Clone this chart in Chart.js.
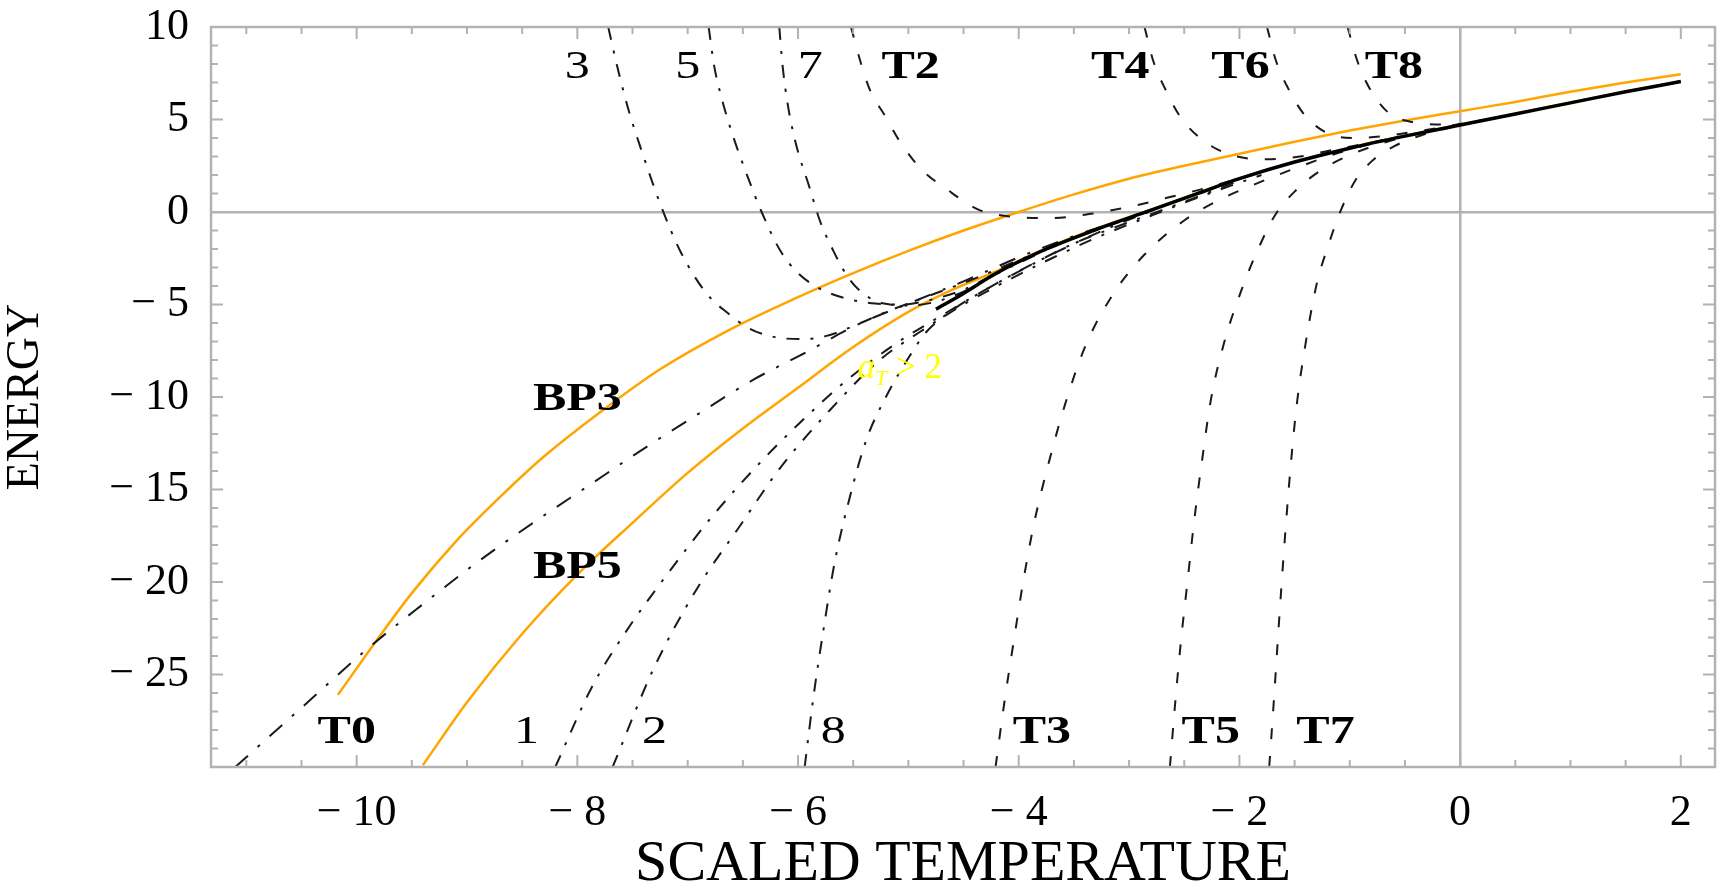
<!DOCTYPE html>
<html>
<head>
<meta charset="utf-8">
<script src="https://cdn.jsdelivr.net/npm/chart.js@4.4.1/dist/chart.umd.min.js"></script>
<style>
  html, body { margin: 0; padding: 0; background: #fff; }
  canvas { display: block; }
</style>
</head>
<body>
<canvas id="myChart" width="1726" height="887"></canvas>
<script>
const xTicks = [-10, -8, -6, -4, -2, 0, 2];
const yTicks = [-25, -20, -15, -10, -5, 0, 5, 10];

// [x, y] pairs
const mainLine = [[-4.75,-5.25],[-4.5,-4.4],[-4.2,-3.3],[-3.75,-2.0],[-3.3,-0.95],[-2.8,0.1],[-2.4,0.95],[-2.0,1.8],[-1.5,2.7],[-1.0,3.45],[-0.5,4.1],[0,4.7],[0.5,5.3],[1.0,5.9],[1.5,6.5],[2.0,7.05]];
const bp3 = [[-10.17,-26.1],[-9.8,-23.0],[-9.5,-20.6],[-9.1,-17.8],[-8.7,-15.4],[-8.3,-13.2],[-7.7,-10.4],[-7.25,-8.5],[-6.6,-6.3],[-6.0,-4.6],[-5.5,-3.3],[-5.0,-2.1],[-4.5,-1.0],[-4.0,0],[-3.5,0.95],[-3.0,1.8],[-2.5,2.5],[-2.0,3.15],[-1.5,3.8],[-1.0,4.4],[-0.5,4.95],[0,5.45],[0.5,5.95],[1.0,6.5],[1.5,7.0],[2.0,7.45]];
const bp5 = [[-9.4,-29.9],[-9.0,-26.5],[-8.5,-22.8],[-8.0,-19.6],[-7.5,-16.8],[-7.0,-14.1],[-6.5,-11.7],[-6.0,-9.5],[-5.5,-7.3],[-5.0,-5.4],[-4.6,-4.2],[-4.2,-3.2],[-3.75,-1.95],[-3.3,-0.9],[-2.8,0.12],[-2.0,1.82],[-1.0,3.47],[0,4.72],[1.0,5.92],[2.0,7.07]];
const t0 = [[-11.1,-30.0],[-10.5,-26.8],[-9.9,-23.6],[-9.4,-21.2],[-8.9,-18.9],[-8.4,-16.8],[-7.9,-14.8],[-7.4,-12.8],[-6.9,-10.9],[-6.4,-9.05],[-5.9,-7.5],[-5.5,-6.2],[-5.0,-4.95],[-4.5,-3.75],[-4.0,-2.45],[-3.5,-1.3],[-3.0,-0.3],[-2.5,0.75],[-2.0,1.8]];
const c1 = [[-8.2,-30],[-7.87,-25.7],[-7.55,-22.6],[-7.2,-19.7],[-6.77,-16.4],[-6.32,-13.4],[-5.86,-10.7],[-5.56,-9.1],[-5.11,-7.1],[-4.7,-5.6],[-4.3,-4.2],[-3.9,-2.9],[-3.5,-1.7],[-3.0,-0.55],[-2.5,0.55],[-2.0,1.7]];
const c2 = [[-7.68,-30],[-7.31,-24.7],[-6.92,-20.4],[-6.53,-17.0],[-6.17,-13.9],[-5.71,-10.7],[-5.26,-8.0],[-4.9,-6.5],[-4.5,-5.0],[-4.1,-3.7],[-3.7,-2.5],[-3.3,-1.4],[-2.8,-0.2],[-2.3,0.95],[-1.8,2.0]];
const c8 = [[-5.94,-30],[-5.86,-26.2],[-5.77,-22.6],[-5.67,-19.0],[-5.53,-15.4],[-5.38,-12.3],[-5.2,-9.96],[-4.99,-7.8],[-4.84,-6.5],[-4.6,-5.3],[-4.3,-4.2],[-4.0,-3.2],[-3.6,-2.0],[-3.2,-0.9],[-2.8,0.05]];
const c3 = [[-7.72,10.0],[-7.64,7.9],[-7.54,5.6],[-7.40,3.0],[-7.24,0.3],[-7.06,-2.2],[-6.83,-4.4],[-6.64,-5.45],[-6.44,-6.3],[-6.22,-6.75],[-5.96,-6.87],[-5.75,-6.71],[-5.5,-6.17],[-5.2,-5.4],[-4.8,-4.5],[-4.4,-3.6],[-4.0,-2.6],[-3.5,-1.4],[-3.0,-0.35],[-2.5,0.75],[-2.0,1.8]];
const c5 = [[-6.81,10.0],[-6.76,7.9],[-6.69,6.1],[-6.6,4.3],[-6.45,1.8],[-6.33,0],[-6.16,-2.1],[-6.0,-3.3],[-5.8,-4.15],[-5.55,-4.7],[-5.3,-4.95],[-5.05,-5.0],[-4.8,-4.75],[-4.5,-4.2],[-4.2,-3.3],[-3.75,-2.0]];
const c7 = [[-6.17,10.0],[-6.14,7.9],[-6.09,5.7],[-6.02,3.7],[-5.9,1.4],[-5.8,-0.5],[-5.68,-2.1],[-5.55,-3.5],[-5.4,-4.45],[-5.22,-4.95],[-5.0,-5.05],[-4.75,-4.85],[-4.5,-4.3],[-4.2,-3.35],[-3.75,-2.05]];
const t2 = [[-5.52,10.0],[-5.44,8.24],[-5.35,6.62],[-5.21,5.18],[-5.07,3.74],[-4.88,2.3],[-4.65,1.22],[-4.37,0.14],[-4.1,-0.23],[-3.72,-0.33],[-3.35,-0.1],[-2.98,0.3],[-2.6,0.85],[-2.3,1.3],[-2.0,1.83]];
const t3 = [[-4.21,-30],[-4.13,-26.5],[-4.04,-23.0],[-3.96,-20.0],[-3.86,-16.8],[-3.73,-13.6],[-3.58,-10.4],[-3.40,-7.3],[-3.14,-4.4],[-2.86,-2.3],[-2.51,-0.5],[-2.2,0.6],[-1.9,1.4],[-1.5,2.35],[-1.1,3.2],[-0.7,3.85]];
const t4 = [[-2.86,10.0],[-2.78,8.15],[-2.67,6.62],[-2.54,5.18],[-2.34,3.92],[-2.09,3.11],[-1.75,2.85],[-1.45,3.0],[-1.2,3.3],[-0.9,3.65],[-0.6,4.0],[-0.3,4.35]];
const t5 = [[-2.63,-30],[-2.58,-26.4],[-2.53,-23.2],[-2.47,-19.95],[-2.41,-16.7],[-2.34,-13.5],[-2.26,-10.2],[-2.14,-7.1],[-1.98,-4.2],[-1.83,-2.0],[-1.68,-0.2],[-1.5,1.1],[-1.25,2.3],[-0.95,3.2],[-0.6,3.9],[-0.3,4.35]];
const t6 = [[-1.75,10.0],[-1.67,8.2],[-1.56,6.7],[-1.41,5.25],[-1.18,4.2],[-0.95,4.0],[-0.7,4.1],[-0.4,4.35],[-0.1,4.65],[0.2,4.98]];
const t7 = [[-1.73,-30],[-1.69,-26.6],[-1.655,-23.4],[-1.62,-20.3],[-1.58,-17.0],[-1.535,-13.7],[-1.48,-10.4],[-1.40,-7.1],[-1.30,-3.9],[-1.2,-1.9],[-1.08,0.1],[-0.95,1.7],[-0.8,2.75],[-0.6,3.55],[-0.35,4.15],[-0.1,4.55],[0.2,4.95]];
const t8 = [[-1.02,10.0],[-0.93,8.14],[-0.82,6.68],[-0.64,5.32],[-0.45,4.88],[-0.3,4.75],[-0.05,4.72],[0.3,5.05],[0.6,5.42]];

// curve labels: text, x centre, y baseline (data units)
const labelText = ["3", "5", "7", "T2", "T4", "T6", "T8", "T0", "1", "2", "8", "T3", "T5", "T7", "BP3", "BP5"];
const labelX = [-8.0, -7.0, -5.89, -4.98, -3.08, -1.99, -0.60, -10.09, -8.46, -7.3, -5.68, -3.79, -2.26, -1.22, -8.0, -8.0];
const labelY = [7.27, 7.27, 7.27, 7.27, 7.27, 7.27, 7.27, -28.7, -28.7, -28.7, -28.7, -28.7, -28.7, -28.7, -10.68, -19.77];
const condX = -5.46, condY = -8.96;

const gray = 'rgb(178,178,178)';
const ink = '#1a1a1a';
const orange = 'rgb(255,165,0)';
const dashed = [11, 17];
const dashDot = [13, 11, 3, 11];
const longDashDot = [17, 13, 3, 13];
const serif = '"Liberation Serif", "DejaVu Serif", serif';

function pts(a) { return a.map(p => ({x: p[0], y: p[1]})); }
function mk(label, arr, color, width, dash) {
  return {
    label: label, data: pts(arr), borderColor: color, borderWidth: width,
    borderDash: dash, pointRadius: 0, fill: false,
    cubicInterpolationMode: 'monotone', borderCapStyle: 'butt'
  };
}

const datasets = [
  mk('main', mainLine, '#000', 3.5, []),
  mk('T0', t0, ink, 2, longDashDot),
  mk('1', c1, ink, 2, dashDot),
  mk('2', c2, ink, 2, dashDot),
  mk('8', c8, ink, 2, dashDot),
  mk('3', c3, ink, 2, dashDot),
  mk('5', c5, ink, 2, dashDot),
  mk('7', c7, ink, 2, dashDot),
  mk('T2', t2, ink, 2, dashed),
  mk('T3', t3, ink, 2, dashed),
  mk('T4', t4, ink, 2, dashed),
  mk('T5', t5, ink, 2, dashed),
  mk('T6', t6, ink, 2, dashed),
  mk('T7', t7, ink, 2, dashed),
  mk('T8', t8, ink, 2, dashed),
  mk('BP3', bp3, orange, 2.5, []),
  mk('BP5', bp5, orange, 2.5, [])
];

function fmt(v) { return v < 0 ? '\u2212 ' + Math.abs(v) : String(v); }

// frame with inward ticks, curve labels
const framePlugin = {
  id: 'framePlugin',
  afterDatasetsDraw(chart) {
    const {ctx, chartArea: a, scales: {x, y}} = chart;
    ctx.save();
    ctx.strokeStyle = gray;
    ctx.lineWidth = 2;
    ctx.beginPath();
    for (let v = Math.ceil(x.min * 2) / 2; v <= x.max; v += 0.5) {
      const px = x.getPixelForValue(v);
      const len = v % 2 === 0 ? 12 : 7;
      ctx.moveTo(px, a.bottom); ctx.lineTo(px, a.bottom - len);
      ctx.moveTo(px, a.top); ctx.lineTo(px, a.top + len);
    }
    for (let v = Math.ceil(y.min); v <= y.max; v += 1) {
      const py = y.getPixelForValue(v);
      const len = v % 5 === 0 ? 12 : 7;
      ctx.moveTo(a.left, py); ctx.lineTo(a.left + len, py);
      ctx.moveTo(a.right, py); ctx.lineTo(a.right - len, py);
    }
    ctx.stroke();
    ctx.lineWidth = 2.5;
    ctx.strokeRect(a.left, a.top, a.right - a.left, a.bottom - a.top);

    ctx.fillStyle = '#000';
    ctx.textAlign = 'center';
    ctx.textBaseline = 'alphabetic';
    for (let i = 0; i < labelText.length; i++) {
      const t = labelText[i];
      const bold = t.length > 1;
      ctx.save();
      ctx.translate(x.getPixelForValue(labelX[i]), y.getPixelForValue(labelY[i]));
      ctx.scale(1.22, 1);
      ctx.font = (bold ? 'bold ' : '') + '41px ' + serif;
      ctx.fillText(t, 0, 0);
      ctx.restore();
    }

    // yellow condition label
    let px = x.getPixelForValue(condX);
    const py = y.getPixelForValue(condY);
    ctx.fillStyle = 'rgb(255,255,0)';
    ctx.textAlign = 'left';
    ctx.font = 'italic 35px ' + serif;
    ctx.fillText('a', px, py);
    px += ctx.measureText('a').width;
    ctx.font = 'italic 22px ' + serif;
    ctx.fillText('T', px, py + 7);
    px += ctx.measureText('T').width;
    ctx.font = '35px ' + serif;
    ctx.fillText(' > 2', px, py);
    ctx.restore();
  }
};

const config = {
  type: 'line',
  data: { datasets: datasets },
  plugins: [framePlugin],
  options: {
    responsive: false,
    animation: false,
    events: [],
    layout: { padding: { top: 27, right: 11, left: 0, bottom: 0 } },
    plugins: { legend: { display: false }, tooltip: { enabled: false } },
    scales: {
      x: {
        type: 'linear',
        min: -11.32,
        max: 2.31,
        afterBuildTicks: s => { s.ticks = xTicks.map(v => ({value: v})); },
        afterFit: s => { s.height = 120; s.paddingLeft = 0; s.paddingRight = 0; },
        ticks: { callback: fmt, color: '#000', padding: 20, maxRotation: 0, autoSkip: false,
                 font: { family: serif, size: 44 } },
        grid: { drawTicks: false, lineWidth: 2.5,
                color: c => (c.tick && c.tick.value === 0) ? gray : 'rgba(0,0,0,0)' },
        border: { display: false },
        title: { display: true, text: 'SCALED TEMPERATURE', color: '#000',
                 font: { family: serif, size: 58, lineHeight: 0.75 }, padding: { top: 0, bottom: 0 } }
      },
      y: {
        type: 'linear',
        min: -30,
        max: 10,
        afterBuildTicks: s => { s.ticks = yTicks.map(v => ({value: v})); },
        afterFit: s => { s.width = 211; s.paddingTop = 0; s.paddingBottom = 0; },
        ticks: { callback: fmt, color: '#000', padding: 22, autoSkip: false,
                 font: { family: serif, size: 44 } },
        grid: { drawTicks: false, lineWidth: 2.5,
                color: c => (c.tick && c.tick.value === 0) ? gray : 'rgba(0,0,0,0)' },
        border: { display: false },
        title: { display: true, text: 'ENERGY', color: '#000',
                 font: { family: serif, size: 46, lineHeight: 1 }, padding: { top: 3, bottom: 0 } }
      }
    }
  }
};

new Chart(document.getElementById('myChart'), config);
</script>
</body>
</html>
